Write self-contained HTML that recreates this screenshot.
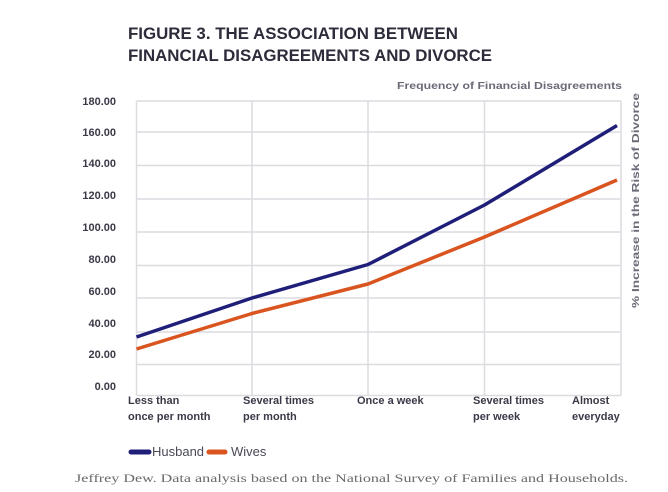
<!DOCTYPE html>
<html><head><meta charset="utf-8"><style>
html,body{margin:0;padding:0;background:#fff;}
svg{display:block;font-family:"Liberation Sans",sans-serif;}
</style></head><body>
<svg width="668" height="492" viewBox="0 0 668 492">
<text x="128" y="39" font-size="16.5" font-weight="bold" fill="#2c2c3a" textLength="330" lengthAdjust="spacingAndGlyphs">FIGURE 3. THE ASSOCIATION BETWEEN</text>
<text x="128" y="61" font-size="16.5" font-weight="bold" fill="#2c2c3a" textLength="364" lengthAdjust="spacingAndGlyphs">FINANCIAL DISAGREEMENTS AND DIVORCE</text>
<text x="622" y="89" font-size="10.5" font-weight="bold" fill="#6a6a78" text-anchor="end" textLength="225" lengthAdjust="spacingAndGlyphs">Frequency of Financial Disagreements</text>
<g stroke="#dcdce0" stroke-width="1.5" fill="none">
<line x1="136.5" y1="101" x2="621" y2="101"/><line x1="136.5" y1="132" x2="621" y2="132"/>
<line x1="136.5" y1="165.5" x2="621" y2="165.5"/><line x1="136.5" y1="199" x2="621" y2="199"/>
<line x1="136.5" y1="232" x2="621" y2="232"/><line x1="136.5" y1="265.5" x2="621" y2="265.5"/>
<line x1="136.5" y1="298" x2="621" y2="298"/><line x1="136.5" y1="332" x2="621" y2="332"/>
<line x1="136.5" y1="364.5" x2="621" y2="364.5"/><line x1="136.5" y1="395.5" x2="621" y2="395.5"/>
<line x1="136.5" y1="101" x2="136.5" y2="395.5"/><line x1="252" y1="101" x2="252" y2="395.5"/>
<line x1="368" y1="101" x2="368" y2="395.5"/><line x1="484.5" y1="101" x2="484.5" y2="395.5"/>
<line x1="621" y1="101" x2="621" y2="395.5"/>
</g>
<g font-size="11" font-weight="bold" fill="#3a3a48" text-anchor="end">
<text x="116" y="105">180.00</text><text x="116" y="136">160.00</text><text x="116" y="167">140.00</text>
<text x="116" y="199">120.00</text><text x="116" y="231">100.00</text><text x="116" y="263">80.00</text>
<text x="116" y="295">60.00</text><text x="116" y="327">40.00</text><text x="116" y="358">20.00</text>
<text x="116" y="390">0.00</text>
</g>
<text transform="translate(639,308) rotate(-90)" font-size="10.5" font-weight="bold" fill="#6a6a78" textLength="215" lengthAdjust="spacingAndGlyphs">% Increase in the Risk of Divorce</text>
<polyline points="136.5,337 252,298 368,264.5 484.5,205 617,125.5" fill="none" stroke="#1f1f7a" stroke-width="3.5" stroke-linejoin="round"/>
<polyline points="136.5,349 252,313.5 368,284 484.5,237 617,180" fill="none" stroke="#d9541e" stroke-width="3.5" stroke-linejoin="round"/>
<g font-size="11" font-weight="bold" fill="#3a3a48">
<text x="128" y="404">Less than</text><text x="128" y="420">once per month</text>
<text x="243" y="404">Several times</text><text x="243" y="420">per month</text>
<text x="357" y="404">Once a week</text>
<text x="473" y="404">Several times</text><text x="473" y="420">per week</text>
<text x="572" y="404">Almost</text><text x="572" y="420">everyday</text>
</g>
<line x1="131" y1="452" x2="149" y2="452" stroke="#1f1f7a" stroke-width="5" stroke-linecap="round"/>
<text x="152" y="456" font-size="13" fill="#4a4a58">Husband</text>
<line x1="209" y1="452" x2="225" y2="452" stroke="#d9541e" stroke-width="5" stroke-linecap="round"/>
<text x="231" y="456" font-size="13" fill="#4a4a58">Wives</text>
<text x="75" y="482" font-family="Liberation Serif,serif" font-size="12" fill="#6a6a6a" textLength="553" lengthAdjust="spacingAndGlyphs">Jeffrey Dew. Data analysis based on the National Survey of Families and Households.</text>
</svg>
</body></html>
